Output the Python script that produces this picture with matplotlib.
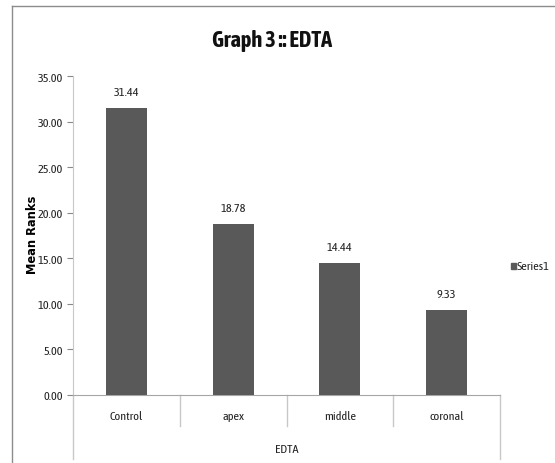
import matplotlib
matplotlib.use("Agg")
import matplotlib.pyplot as plt
from matplotlib.lines import Line2D
from matplotlib.transforms import blended_transform_factory

categories = ["Control", "apex", "middle", "coronal"]
values = [31.44, 18.78, 14.44, 9.33]
group_label = "EDTA"
yticks = [0, 5, 10, 15, 20, 25, 30, 35]
series_name = "Series1"

plt.rcParams["font.family"] = ["Asap Condensed", "DejaVu Sans"]

W, H = 555, 464
fig = plt.figure(figsize=(W / 100, H / 100), dpi=100)
ax = fig.add_axes([73 / W, (H - 396) / H, (500 - 73) / W, (396 - 77) / H])

x = list(range(len(categories)))
ax.bar(x, values, width=0.385, color="#595959", zorder=3)
ax.set_xlim(-0.5, len(categories) - 0.5)
ax.set_ylim(0, 35)
ax.set_yticks(yticks)
ax.set_yticklabels([f"{v:.2f}" for v in yticks], fontsize=8.8, color="#222222")
ax.set_xticks([])
for s in ["top", "right"]:
    ax.spines[s].set_visible(False)
ax.spines["left"].set_color("#c8c8c8")
ax.spines["bottom"].set_color("#a6a6a6")
ax.tick_params(axis="y", length=4, color="#888888", pad=3)

for xi, v in zip(x, values):
    ax.annotate(f"{v:.2f}", (xi, v), xytext=(0, 8), textcoords="offset points",
                ha="center", va="bottom", fontsize=8.8, color="#222222")

tr = blended_transform_factory(ax.transData, ax.transAxes)
axh = 396 - 77
for i in range(len(categories) + 1):
    xb = i - 0.5
    outer = i == 0 or i == len(categories)
    depth = 64 if outer else 31
    ax.add_line(Line2D([xb, xb], [0, -depth / axh], transform=tr, color="#c8c8c8",
                       lw=1, clip_on=False))
for xi, c in zip(x, categories):
    ax.text(xi, -21 / axh, c, transform=tr, ha="center", va="center", fontsize=8.8,
            color="#222222")
ax.text((len(categories) - 1) / 2, -54 / axh, group_label, transform=tr, ha="center",
        va="center", fontsize=8.8, color="#222222")

fig.text(32 / W, 1 - 235 / H, "Mean Ranks", rotation=90, ha="center", va="center",
         fontsize=8.3, fontweight="bold", family="DejaVu Sans")
fig.text(272 / W, 1 - 41 / H, "Graph 3 :: EDTA", ha="center", va="center",
         fontsize=16, fontweight="bold", color="#111111")

# legend
fig.patches.append(plt.Rectangle((511 / W, 1 - 270 / H), 5 / W, 6 / H,
                                 transform=fig.transFigure, color="#595959"))
fig.text(517 / W, 1 - 266.5 / H, series_name, ha="left", va="center", fontsize=8.8,
         color="#222222")

# chart border
fig.add_artist(Line2D([12 / W, 12 / W], [0, 1 - 7 / H], transform=fig.transFigure,
                      color="#8c8c8c", lw=1))
fig.add_artist(Line2D([12 / W, 1], [1 - 7 / H, 1 - 7 / H], transform=fig.transFigure,
                      color="#8c8c8c", lw=1))

fig.savefig("out.png", dpi=100)
